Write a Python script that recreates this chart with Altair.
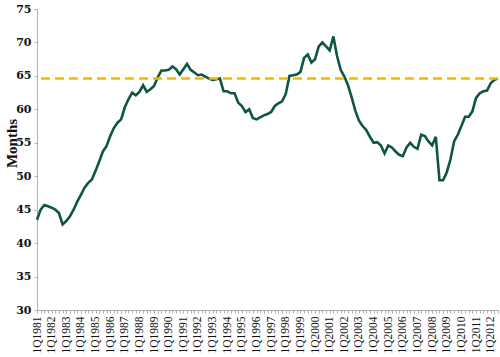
import altair as alt
import pandas as pd

# Quarterly categories 1Q1981 .. 3Q2012
years = list(range(1981, 2013))
quarters = [f"{q}Q{y}" for y in years for q in (1, 2, 3, 4)][:127]

months = [
    43.5, 45.0, 45.7, 45.5, 45.3, 45.0, 44.5, 42.8, 43.3, 44.0,
    45.0, 46.2, 47.2, 48.3, 49.0, 49.5, 50.8, 52.2, 53.7, 54.5,
    56.0, 57.2, 58.0, 58.5, 60.3, 61.5, 62.5, 62.1, 62.6, 63.6,
    62.6, 63.0, 63.5, 64.8, 65.8, 65.8, 65.9, 66.4, 66.0, 65.2,
    66.0, 66.8, 65.9, 65.5, 65.1, 65.2, 64.9, 64.6, 64.4, 64.5,
    64.6, 62.7, 62.7, 62.4, 62.4, 61.0, 60.5, 59.6, 60.0, 58.7,
    58.5, 58.8, 59.1, 59.3, 59.6, 60.5, 60.9, 61.2, 62.3, 65.0,
    65.1, 65.2, 65.6, 67.7, 68.2, 67.0, 67.5, 69.4, 70.0, 69.4,
    68.8, 70.9, 68.0, 65.9, 64.9, 63.6, 61.8, 59.8, 58.3, 57.5,
    56.9, 55.9, 55.0, 55.1, 54.6, 53.4, 54.6, 54.3, 53.7, 53.2,
    53.0, 54.3, 55.0, 54.4, 54.1, 56.2, 56.0, 55.2, 54.6, 55.9,
    49.4, 49.4, 50.6, 52.5, 55.2, 56.2, 57.5, 58.9, 58.9, 59.7,
    61.7, 62.4, 62.7, 62.8, 63.9, 64.4, 64.6,
]

average = [64.6]
y_ticks = [30, 35, 40, 45, 50, 55, 60, 65, 70, 75]

df = pd.DataFrame({"quarter": quarters, "months": months})
avg_df = pd.DataFrame({"avg": average})

FONT = "Liberation Serif"
AXIS_GRAY = "#B0B0B0"

x_enc = alt.X(
    "quarter:O",
    sort=quarters,
    scale=alt.Scale(type="point", padding=0),
    axis=alt.Axis(
        title=None,
        values=quarters,
        labelExpr="indexof(datum.value, '1Q') == 0 ? datum.value : ''",
        labelAngle=-90,
        labelOverlap=False,
        labelFont=FONT,
        labelFontSize=11.5,
        labelColor="#111111",
        labelPadding=3,
        tickSize=3,
        tickColor=AXIS_GRAY,
        domainColor=AXIS_GRAY,
        grid=False,
    ),
)

y_scale = alt.Scale(domain=[30, 75], nice=False, zero=False)

y_axis = alt.Axis(
    title="Months",
    values=y_ticks,
    labelOverlap=False,
    titleFont=FONT,
    titleFontSize=15,
    titleFontWeight="bold",
    titleColor="#111111",
    titleAngle=-90,
    titleX=-21,
    titleY=134,
    titleAlign="center",
    titleBaseline="alphabetic",
    labelFont="DejaVu Serif",
    labelFontSize=11,
    labelFontWeight="bold",
    labelColor="#111111",
    labelPadding=3,
    tickSize=3,
    tickColor=AXIS_GRAY,
    domainColor=AXIS_GRAY,
    grid=False,
)

line = alt.Chart(df).mark_line(color="#0F5640", strokeWidth=2.6).encode(
    x=x_enc, y=alt.Y("months:Q", scale=y_scale, axis=y_axis)
)

avg_rule = alt.Chart(avg_df).mark_rule(
    color="#F5B800", strokeWidth=2.4, strokeDash=[9, 5]
).encode(y=alt.Y("avg:Q", scale=y_scale, axis=y_axis))

chart = (
    alt.layer(line, avg_rule)
    .properties(
        width=461,
        height=301,
        autosize=alt.AutoSizeParams(type="none"),
        padding={"left": 37, "top": 9, "right": 2, "bottom": 47},
        background="white",
    )
    .configure_view(stroke=None)
)

chart.save("out.html", embed_options={"renderer": "svg", "actions": False})
